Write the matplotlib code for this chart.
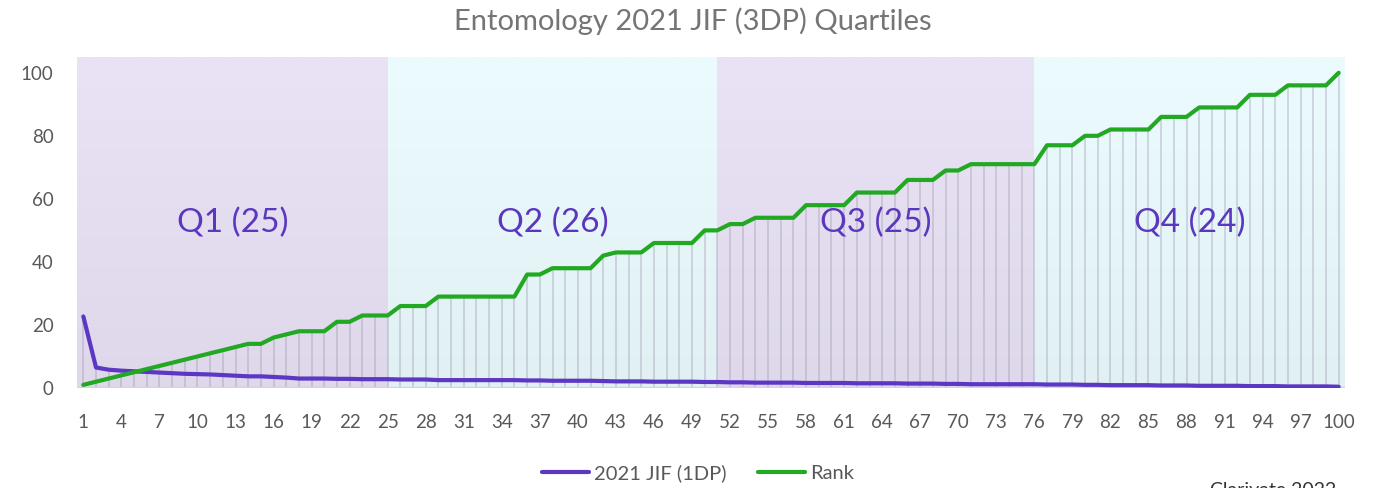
import numpy as np
import matplotlib
matplotlib.use("Agg")
import matplotlib.pyplot as plt
from matplotlib.colors import LinearSegmentedColormap

# ---- data ----
categories = list(range(1, 101))
jif_1dp = [
    22.7, 6.5, 5.8, 5.5, 5.3, 5.1, 4.9, 4.7, 4.5, 4.4,
    4.3, 4.1, 3.9, 3.7, 3.7, 3.5, 3.3, 3.0, 3.0, 3.0,
    2.9, 2.9, 2.8, 2.8, 2.8, 2.7, 2.7, 2.7, 2.5, 2.5,
    2.5, 2.5, 2.5, 2.5, 2.5, 2.4, 2.4, 2.3, 2.3, 2.3,
    2.3, 2.2, 2.1, 2.1, 2.1, 2.0, 2.0, 2.0, 2.0, 1.9,
    1.9, 1.8, 1.8, 1.7, 1.7, 1.7, 1.7, 1.6, 1.6, 1.6,
    1.6, 1.5, 1.5, 1.5, 1.5, 1.4, 1.4, 1.4, 1.3, 1.3,
    1.2, 1.2, 1.2, 1.2, 1.2, 1.2, 1.1, 1.1, 1.1, 1.0,
    1.0, 0.9, 0.9, 0.9, 0.9, 0.8, 0.8, 0.8, 0.7, 0.7,
    0.7, 0.7, 0.6, 0.6, 0.6, 0.5, 0.5, 0.5, 0.5, 0.4,
]
rank = [
    1, 2, 3, 4, 5, 6, 7, 8, 9, 10,
    11, 12, 13, 14, 14, 16, 17, 18, 18, 18,
    21, 21, 23, 23, 23, 26, 26, 26, 29, 29,
    29, 29, 29, 29, 29, 36, 36, 38, 38, 38,
    38, 42, 43, 43, 43, 46, 46, 46, 46, 50,
    50, 52, 52, 54, 54, 54, 54, 58, 58, 58,
    58, 62, 62, 62, 62, 66, 66, 66, 69, 69,
    71, 71, 71, 71, 71, 71, 77, 77, 77, 80,
    80, 82, 82, 82, 82, 86, 86, 86, 89, 89,
    89, 89, 93, 93, 93, 96, 96, 96, 96, 100,
]
quartile_names = ["Q1", "Q2", "Q3", "Q4"]
quartile_counts = [25, 26, 25, 24]
y_ticks = [0, 20, 40, 60, 80, 100]
x_tick_labels = list(range(1, 101, 3))
title = "Entomology 2021 JIF (3DP) Quartiles"

# ---- style ----
plt.rcParams['font.family'] = ['Lato', 'DejaVu Sans']
W, H = 1386, 488
fig = plt.figure(figsize=(W / 100, H / 100), dpi=100)
ax = fig.add_axes([77 / W, 1 - 388 / H, (1345 - 77) / W, (388 - 57) / H])

YMAX = 105
XMIN, XMAX = 0.5, 100.5
ax.set_xlim(XMIN, XMAX)
ax.set_ylim(0, YMAX)

# quartile backgrounds (vertical gradient)
bounds = [XMIN] + list(np.cumsum(quartile_counts).astype(float))
bounds[-1] = XMAX
lav = LinearSegmentedColormap.from_list("lav", ["#DFD8EA", "#E9E3F5"])
cya = LinearSegmentedColormap.from_list("cya", ["#E1F0F3", "#ECFBFE"])
grad = np.linspace(0, 1, 256).reshape(-1, 1)
for i in range(4):
    cmap = lav if i % 2 == 0 else cya
    ax.imshow(grad, cmap=cmap, origin="lower", aspect="auto",
              extent=[bounds[i], bounds[i + 1], 0, YMAX], zorder=0,
              interpolation="bilinear")
    mid = (bounds[i] + bounds[i + 1]) / 2
    ax.text(mid, 52.5, f"{quartile_names[i]} ({quartile_counts[i]})",
            ha="center", va="center", fontsize=24, color="#5B37C0", zorder=5)

# drop lines
tops = np.maximum(np.array(jif_1dp), np.array(rank))
ax.vlines(categories, 0, tops, colors="#9A98AE", alpha=0.38, lw=1.3, zorder=1)

# axis base line
ax.axhline(0, color="#D4D4D4", lw=1.5, zorder=2)

l1, = ax.plot(categories, jif_1dp, color="#5B37C4", lw=3.0,
              solid_capstyle="round", solid_joinstyle="round", zorder=4,
              label="2021 JIF (1DP)")
l2, = ax.plot(categories, rank, color="#22A822", lw=3.0,
              solid_capstyle="round", solid_joinstyle="round", zorder=4,
              label="Rank")

for s in ax.spines.values():
    s.set_visible(False)
ax.set_yticks(y_ticks)
ax.set_yticklabels([str(v) for v in y_ticks])
ax.set_xticks(x_tick_labels)
ax.set_xticklabels([str(v) for v in x_tick_labels])
ax.tick_params(axis="both", length=0, labelsize=13.5, colors="#595959")
ax.tick_params(axis="x", pad=19)
ax.tick_params(axis="y", pad=17)
for lab in ax.get_yticklabels():
    lab.set_horizontalalignment("right")

fig.text(693 / W, 1 - 21 / H, title, ha="center", va="center",
         fontsize=21, color="#757575")

leg = fig.legend(handles=[l1, l2], loc="center", bbox_to_anchor=(698 / W, 1 - 473 / H),
                 ncol=2, frameon=False, fontsize=14.5, handlelength=2.3,
                 columnspacing=1.6, handletextpad=0.25)
for t in leg.get_texts():
    t.set_color("#595959")

fig.text(1210 / W, 1 - 482 / H, "Clarivate 2022", ha="left", va="top",
         fontsize=14, color="#333333")

fig.savefig("out.png", dpi=100)
